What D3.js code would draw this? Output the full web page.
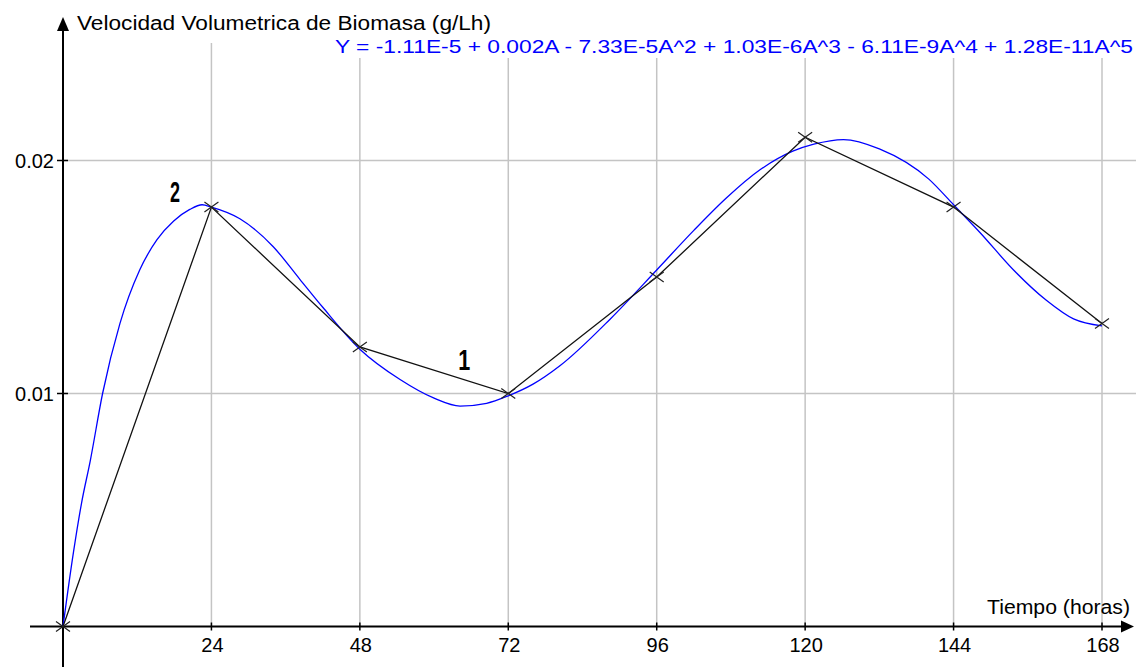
<!DOCTYPE html>
<html>
<head>
<meta charset="utf-8">
<script src="https://cdn.jsdelivr.net/npm/d3@7"></script>
<style>
  body { margin: 0; background: #fff; }
  svg { display: block; }
  text { font-family: "Liberation Sans", Arial, sans-serif; }
</style>
</head>
<body>
<script>
// measured points (black polyline with x markers)
const hours = [0, 24, 48, 72, 96, 120, 144, 168];
const rates = [0, 0.018, 0.012, 0.010, 0.015, 0.021, 0.018, 0.013];

// fitted curve
const fitHours = [0, 1.7, 3, 4.4, 6.4, 9.2, 12.4, 15.2, 17.9, 20.5, 22.5, 24, 28.6, 34, 38.3, 42, 48,
  54.5, 60, 64.2, 68.5, 72, 76, 80.4, 88.5, 96, 102, 107.3, 112.7, 118, 121.4, 126.2, 132, 140,
  144, 148.3, 153.7, 159, 163.4, 168];
const fitRates = [0, 0.0032, 0.0053, 0.0071, 0.0100, 0.0130, 0.0153, 0.0166, 0.0174, 0.0179, 0.0181, 0.0180,
  0.0175, 0.0163, 0.0149, 0.0137, 0.0119, 0.0106, 0.0098, 0.00946, 0.00958, 0.0099, 0.0104, 0.0112,
  0.0132, 0.0153, 0.0170, 0.0184, 0.0196, 0.0204, 0.0207, 0.0209, 0.0205, 0.0192, 0.0181, 0.0169,
  0.0153, 0.0140, 0.0132, 0.0129];

const xTicks = [24, 48, 72, 96, 120, 144, 168];
const yTicks = [0.01, 0.02];
const yTickLabels = ["0.01", "0.02"];

const yTitle = "Velocidad Volumetrica de Biomasa (g/Lh)";
const xTitle = "Tiempo (horas)";
const equation = "Y = -1.11E-5 + 0.002A - 7.33E-5A^2 + 1.03E-6A^3 - 6.11E-9A^4 + 1.28E-11A^5";

// annotation labels: [text, hour, rate]
const notes = [["2", 18.1, 0.0182], ["1", 64.7, 0.0110]];

const WIDTH = 1138, HEIGHT = 667;

const svg = d3.select("body").append("svg")
  .attr("width", WIDTH)
  .attr("height", HEIGHT);

const x = d3.scaleLinear().domain([0, 168]).range([63, 1102]);
const y = d3.scaleLinear().domain([0, 0.02]).range([626.5, 160.5]);

const GRID = "#c4c4c4";

// vertical grid
svg.selectAll(".vgrid")
  .data(xTicks)
  .join("line")
  .attr("class", "vgrid")
  .attr("x1", d => x(d)).attr("x2", d => x(d))
  .attr("y1", 43).attr("y2", y(0))
  .attr("stroke", GRID).attr("stroke-width", 1.5);

// horizontal grid
svg.selectAll(".hgrid")
  .data(yTicks)
  .join("line")
  .attr("class", "hgrid")
  .attr("x1", x(0)).attr("x2", 1136)
  .attr("y1", d => y(d)).attr("y2", d => y(d))
  .attr("stroke", GRID).attr("stroke-width", 1.5);

// equation label with white box (hides the grid behind it)
const eq = svg.append("text")
  .attr("x", 335).attr("y", 53)
  .attr("font-size", 19)
  .attr("fill", "#0000ff")
  .attr("textLength", 798)
  .attr("lengthAdjust", "spacingAndGlyphs")
  .text(equation);
const bb = eq.node().getBBox();
svg.insert("rect", "text")
  .attr("x", bb.x - 2).attr("y", 43)
  .attr("width", bb.width + 4).attr("height", 15)
  .attr("fill", "#fff");

// axes
svg.append("line")
  .attr("x1", 30).attr("x2", 1124)
  .attr("y1", y(0)).attr("y2", y(0))
  .attr("stroke", "#000").attr("stroke-width", 2);
svg.append("path")
  .attr("d", `M1134,${y(0)} L1121,${y(0) - 6} L1121,${y(0) + 6} Z`)
  .attr("fill", "#000");

svg.append("line")
  .attr("x1", x(0)).attr("x2", x(0))
  .attr("y1", 28).attr("y2", HEIGHT)
  .attr("stroke", "#000").attr("stroke-width", 2);
svg.append("path")
  .attr("d", `M${x(0)},17 L${x(0) - 6},31 L${x(0) + 6},31 Z`)
  .attr("fill", "#000");

// ticks
svg.selectAll(".xtick")
  .data(xTicks)
  .join("line")
  .attr("class", "xtick")
  .attr("x1", d => x(d)).attr("x2", d => x(d))
  .attr("y1", y(0) - 4).attr("y2", y(0) + 4)
  .attr("stroke", "#000").attr("stroke-width", 1.5);

svg.selectAll(".ytick")
  .data(yTicks)
  .join("line")
  .attr("class", "ytick")
  .attr("x1", x(0) - 6).attr("x2", x(0) + 5)
  .attr("y1", d => y(d)).attr("y2", d => y(d))
  .attr("stroke", "#000").attr("stroke-width", 1.5);

// tick labels
svg.selectAll(".xlab")
  .data(xTicks)
  .join("text")
  .attr("class", "xlab")
  .attr("x", d => x(d) + 1).attr("y", 652)
  .attr("text-anchor", "middle")
  .attr("font-size", 20)
  .attr("fill", "#000")
  .text(d => d);

svg.selectAll(".ylab")
  .data(yTicks)
  .join("text")
  .attr("class", "ylab")
  .attr("x", 54).attr("y", d => y(d) + 7)
  .attr("text-anchor", "end")
  .attr("font-size", 20)
  .attr("fill", "#000")
  .text((d, i) => yTickLabels[i]);

// axis titles
svg.append("text")
  .attr("x", 77).attr("y", 30)
  .attr("font-size", 20)
  .attr("textLength", 414)
  .attr("lengthAdjust", "spacingAndGlyphs")
  .text(yTitle);

svg.append("text")
  .attr("x", 987).attr("y", 614)
  .attr("font-size", 20)
  .attr("textLength", 143)
  .attr("lengthAdjust", "spacingAndGlyphs")
  .text(xTitle);

// fitted curve
const fit = fitHours.map((h, i) => [h, fitRates[i]]);
svg.append("path")
  .datum(fit)
  .attr("fill", "none")
  .attr("stroke", "#0000ff")
  .attr("stroke-width", 1.3)
  .attr("d", d3.line().x(d => x(d[0])).y(d => y(d[1])).curve(d3.curveMonotoneX));

// measured polyline
const pts = hours.map((h, i) => [h, rates[i]]);
svg.append("path")
  .datum(pts)
  .attr("fill", "none")
  .attr("stroke", "#111")
  .attr("stroke-width", 1.3)
  .attr("d", d3.line().x(d => x(d[0])).y(d => y(d[1])));

// x markers
svg.selectAll(".mark")
  .data(pts)
  .join("path")
  .attr("class", "mark")
  .attr("d", d => {
    const cx = x(d[0]), cy = y(d[1]);
    return `M${cx - 7},${cy - 5}L${cx + 7},${cy + 5}M${cx - 7},${cy + 5}L${cx + 7},${cy - 5}`;
  })
  .attr("stroke", "#222")
  .attr("stroke-width", 1.2)
  .attr("fill", "none");

// curve labels
svg.selectAll(".note")
  .data(notes)
  .join("text")
  .attr("class", "note")
  .attr("x", d => x(d[1]) - 5).attr("y", d => y(d[2]))
  .attr("font-family", "'Liberation Sans Narrow', 'DejaVu Sans Condensed', sans-serif")
  .attr("font-weight", "bold")
  .attr("font-size", 30)
  .attr("textLength", d => d[0] === "1" ? 12 : 10)
  .attr("lengthAdjust", "spacingAndGlyphs")
  .text(d => d[0]);
</script>
</body>
</html>
